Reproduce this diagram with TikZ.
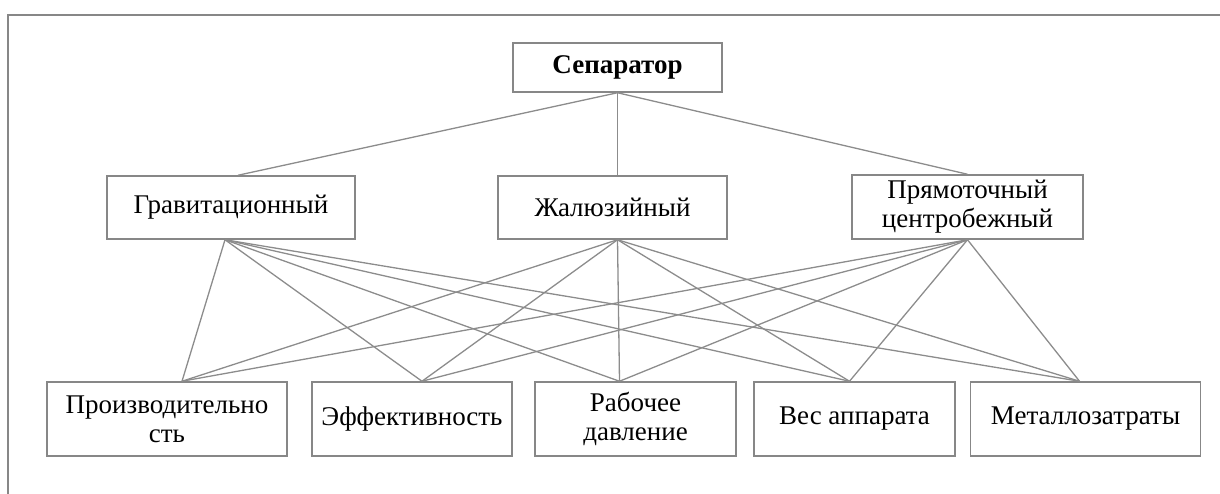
\documentclass[tikz,border=0pt]{standalone}
\usepackage{fontspec}
\setmainfont{Liberation Serif}
\definecolor{boxgray}{RGB}{135,135,135}
\definecolor{linegray}{RGB}{140,140,140}
\begin{document}
\begin{tikzpicture}[x=1pt,y=-1pt,
  box/.style={draw=boxgray, line width=1.5pt, inner sep=0pt, align=center,
    font=\fontsize{27}{29}\selectfont, text=black},
  link/.style={draw=linegray, line width=1.3pt},
  frame/.style={draw=boxgray, line width=1.5pt}]
\useasboundingbox (0,0) rectangle (1220,494);
\coordinate (fl) at (8,494);
\coordinate (fc) at (8,15);
\coordinate (fr) at (1220,15);
\draw[frame] (fl) -- (fc) -- (fr);

\node[box, minimum width=209pt, minimum height=49pt] (sep) at (617.5,67.5) {\bfseries Сепаратор};
\node[box, minimum width=248pt, minimum height=63pt] (grav) at (231,207.5) {Гравитационный};
\node[box, minimum width=229pt, minimum height=63pt] (zhal) at (612.5,207.5) {Жалюзийный};
\node[box, minimum width=231pt, minimum height=64pt] (pryam) at (967.5,207) {Прямоточный\\центробежный};

\node[box, minimum width=240pt, minimum height=74pt] (prod) at (167,419) {Производительно\\сть};
\node[box, minimum width=200pt, minimum height=74pt] (eff) at (412,419) {Эффективность};
\node[box, minimum width=201pt, minimum height=74pt] (rab) at (635.5,419) {Рабочее\\давление};
\node[box, minimum width=201pt, minimum height=74pt] (ves) at (854.5,419) {Вес аппарата};
\node[box, minimum width=230pt, minimum height=74pt] (met) at (1085.5,419) {Металлозатраты};

\draw[link] (sep.south) -- ([xshift=7pt]grav.north);
\draw[link] (sep.south) -- ([xshift=5pt]zhal.north);
\draw[link] (sep.south) -- (pryam.north);

\foreach \a/\s in {grav/-6, zhal/5, pryam/0}{
  \draw[link] ([xshift=\s pt]\a.south) -- ([xshift=15pt]prod.north);
  \draw[link] ([xshift=\s pt]\a.south) -- ([xshift=10pt]eff.north);
  \draw[link] ([xshift=\s pt]\a.south) -- ([xshift=-16pt]rab.north);
  \draw[link] ([xshift=\s pt]\a.south) -- ([xshift=-5pt]ves.north);
  \draw[link] ([xshift=\s pt]\a.south) -- ([xshift=-6pt]met.north);
}
\end{tikzpicture}
\end{document}
